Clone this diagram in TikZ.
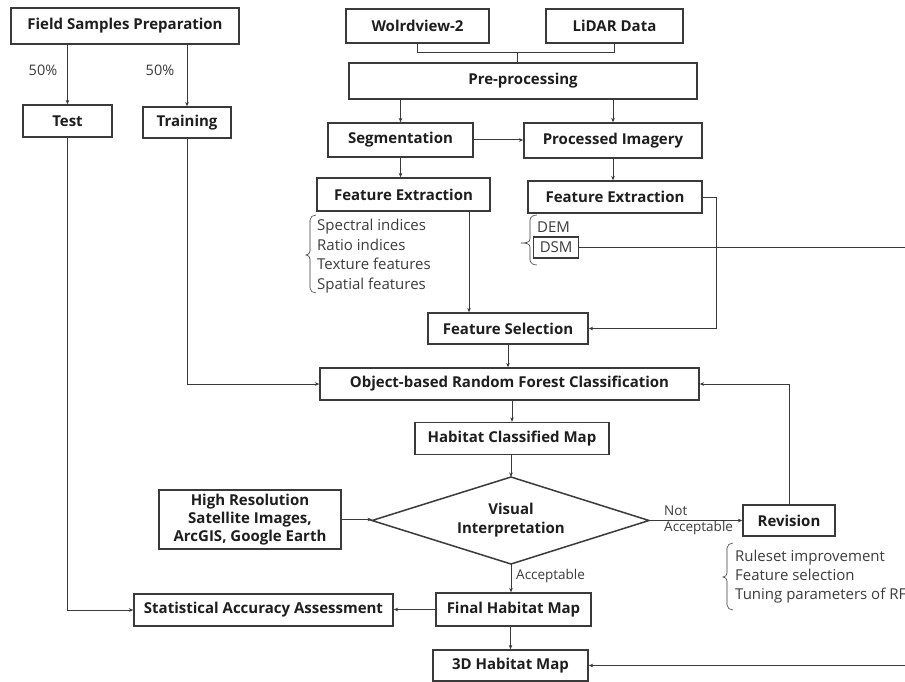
\documentclass[tikz,border=0pt]{standalone}
\usepackage{fontspec}
\setmainfont{Open Sans}
\usetikzlibrary{arrows.meta}
\definecolor{ln}{HTML}{3A3A3A}
\definecolor{tx}{HTML}{1E1E1E}
\definecolor{lt}{HTML}{3C3C3C}
\begin{document}
\begin{tikzpicture}[x=1pt,y=-1pt,
  box/.style={draw=ln,line width=1.3pt,inner sep=0pt,text=tx,align=center,
    font=\fontsize{15}{18.5}\selectfont\bfseries},
  arr/.style={draw=ln,line width=1pt,-{Stealth[length=4.5pt,width=3.6pt]}},
  ln/.style={draw=ln,line width=1pt},
  lbl/.style={text=lt,inner sep=0pt,font=\fontsize{13.5}{16}\selectfont},
  lst/.style={text=lt,inner sep=0pt,align=left,anchor=west,font=\fontsize{15}{19.5}\selectfont},
  brk/.style={draw=ln,line width=0.6pt}]
\useasboundingbox[fill=white] (0,0) rectangle (905,682);
% boxes
\node[box,minimum width=228pt,minimum height=36pt] (fsp) at (125,26) {Field Samples Preparation};
\node[box,minimum width=89pt,minimum height=32pt] (test) at (67.5,121) {Test};
\node[box,minimum width=88pt,minimum height=31pt] (train) at (187,122.5) {Training};
\node[box,minimum width=143pt,minimum height=34pt] (wv) at (417.5,26) {Wolrdview-2};
\node[box,minimum width=137pt,minimum height=34pt] (lidar) at (614.5,26) {LiDAR Data};
\node[box,minimum width=348pt,minimum height=36pt] (pre) at (523,81) {Pre-processing};
\node[box,minimum width=145pt,minimum height=34pt] (seg) at (400.5,140) {Segmentation};
\node[box,minimum width=178pt,minimum height=35pt] (proc) at (613,140.5) {Processed Imagery};
\node[box,minimum width=173pt,minimum height=33pt] (fe1) at (403.5,194.5) {Feature Extraction};
\node[box,minimum width=174pt,minimum height=32pt] (fe2) at (615,197) {Feature Extraction};
\node[box,minimum width=160pt,minimum height=31pt] (fs) at (508,328.5) {Feature Selection};
\node[box,minimum width=379pt,minimum height=32pt] (rf) at (509.5,384) {Object-based Random Forest Classification};
\node[box,minimum width=194pt,minimum height=32pt] (hcm) at (512,438.5) {Habitat Classified Map};
\node[box,minimum width=182pt,minimum height=59pt,font=\fontsize{15}{18}\selectfont\bfseries] (hr) at (250,519.5) {High Resolution\\Satellite Images,\\ArcGIS, Google Earth};
\node[box,minimum width=92pt,minimum height=31pt] (rev) at (789,520.5) {Revision};
\node[box,minimum width=155pt,minimum height=33pt] (fhm) at (513.5,609.5) {Final Habitat Map};
\node[box,minimum width=259pt,minimum height=32pt] (saa) at (263.5,610) {Statistical Accuracy Assessment};
\node[box,minimum width=155pt,minimum height=31pt] (hm3) at (510.5,665.5) {3D Habitat Map};
% diamond
\coordinate (vt) at (511,477);
\coordinate (vr) at (649,520.5);
\coordinate (vb) at (511,564);
\coordinate (vl) at (372,520.5);
\draw[draw=ln,line width=1.5pt] (vt) -- (vr) -- (vb) -- (vl) -- cycle;
\node[box,draw=none,font=\fontsize{15}{19}\selectfont\bfseries] (vi) at (511,520.5) {Visual\\Interpretation};
% lists
\node[lst] (l1) at (317,256) {Spectral indices\\Ratio indices\\Texture features\\Spatial features};
\node[lst] (dem) at (537,227) {DEM};
\node[lst,draw=ln,line width=1.3pt,minimum width=45pt,minimum height=21pt,inner xsep=2pt] (dsm) at (533,247.5) {DSM};
\node[lst,font=\fontsize{15}{19}\selectfont] (l3) at (735,577) {Ruleset improvement\\Feature selection\\Tuning parameters of RF};
% brackets
\draw[brk] (316,215) to[out=180,in=90] (310,220) -- (310,251) to[out=-90,in=0] (306,255) to[out=0,in=90] (310,259) -- (310,288) to[out=-90,in=180] (316,293);
\draw[brk] (537,215) to[out=180,in=90] (530,220) -- (530,239) to[out=-90,in=0] (521,243) to[out=0,in=90] (530,247) -- (530,260) to[out=-90,in=180] (537,265);
\draw[brk] (733,543) to[out=180,in=90] (727,548) -- (727,573) to[out=-90,in=0] (723,577) to[out=0,in=90] (727,581) -- (727,605) to[out=-90,in=180] (733,610);
% helper coordinates
\coordinate (join) at (517,53);
\coordinate (c1) at (469,0);
\coordinate (c2) at (716,0);
\coordinate (cR) at (912,0);
% connectors
\draw[arr] (fsp.south -| test.north) -- (test.north);
\draw[arr] (fsp.south -| train.north) -- (train.north);
\node[lbl,font=\fontsize{14.5}{16}\selectfont] (p1) at (43,70) {50\%};
\node[lbl,font=\fontsize{14.5}{16}\selectfont] (p2) at (160,70) {50\%};
\draw[ln] (wv.south) -- (wv.south |- join) -- (lidar.south |- join) -- (lidar.south);
\draw[ln] (join) -- (join |- pre.north);
\draw[arr] (seg.north |- pre.south) -- (seg.north);
\draw[arr] (proc.north |- pre.south) -- (proc.north);
\draw[arr] (seg.east) -- (seg.east -| proc.west);
\draw[arr] (seg.south) -- (seg.south |- fe1.north);
\draw[arr] (proc.south) -- (proc.south |- fe2.north);
\draw[arr] (fe1.south -| c1) -- (fs.north -| c1);
\draw[arr] (fe2.east) -- (fe2.east -| c2) -- (fs.east -| c2) -- (fs.east);
\draw[arr] (dsm.east) -- (dsm.east -| cR) -- (hm3.east -| cR) -- (hm3.east);
\draw[arr] (fs.south) -- (fs.south |- rf.north);
\draw[arr] (train.south) |- (rf.west);
\draw[arr] (hcm.north |- rf.south) -- (hcm.north);
\draw[arr] (hcm.south -| vt) -- (vt);
\draw[arr] (hr.east) -- (hr.east -| vl);
\draw[arr] (vr) -- (rev.west);
\node[lbl,align=left,anchor=west] (na) at (664,520.5) {Not\\Acceptable};
\draw[arr] (rev.north) |- (rf.east);
\draw[arr] (vb) -- (vb |- fhm.north);
\node[lbl,anchor=west] (acc) at (516,576) {Acceptable};
\draw[arr] (fhm.west) -- (fhm.west -| saa.east);
\draw[arr] (test.south) |- (saa.west);
\draw[arr] (fhm.south -| hm3.north) -- (hm3.north);
\end{tikzpicture}
\end{document}
